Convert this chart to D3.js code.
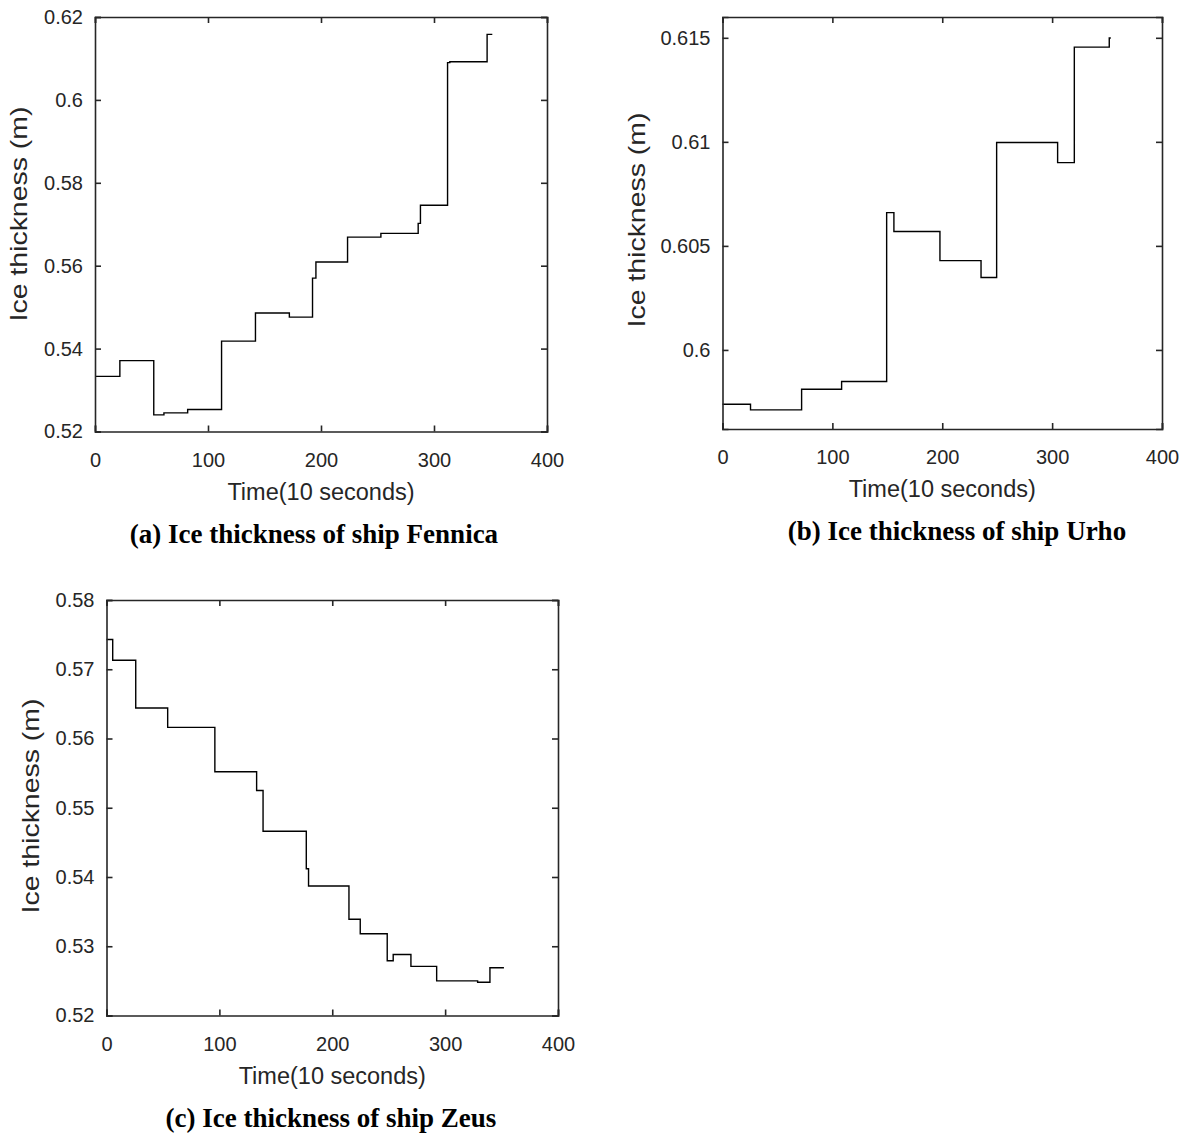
<!DOCTYPE html>
<html>
<head>
<meta charset="utf-8">
<script src="https://cdn.jsdelivr.net/npm/d3@7"></script>
<style>
  body { margin: 0; background: #fff; }
  svg { display: block; }
</style>
</head>
<body>
<div id="chart"></div>
<script>
// step data: time (x10 s) where each level starts, and ice thickness (m)
const fennicaTime = [0, 22, 52, 61, 82, 112, 142, 172, 192.5, 195.5, 223.5, 253, 286, 288, 312, 314, 347, 351.6];
const fennicaIce  = [0.5333, 0.5371, 0.5240, 0.5245, 0.5253, 0.5418, 0.5486, 0.5476, 0.5570, 0.5609, 0.5669, 0.5678, 0.5702, 0.5746, 0.6090, 0.6092, 0.6158, 0.6158];

const urhoTime = [0, 25.5, 72, 108.4, 149.4, 156, 197.9, 235.3, 249.5, 305, 320.2, 352, 353.4];
const urhoIce  = [0.59739, 0.59712, 0.59811, 0.59848, 0.6066, 0.60569, 0.60429, 0.60348, 0.60997, 0.6090, 0.61455, 0.61499, 0.61499];

const zeusTime = [0, 5.5, 25.9, 54.2, 96, 133, 138.7, 177, 179, 214.8, 224.8, 248.7, 254, 269.7, 292.5, 328.8, 339.7, 352.1];
const zeusIce  = [0.5743, 0.5713, 0.5644, 0.5616, 0.5552, 0.5525, 0.5466, 0.5412, 0.5387, 0.5339, 0.5318, 0.5279, 0.5288, 0.5271, 0.5250, 0.5248, 0.5269, 0.5269];

const timeTicks = [0, 100, 200, 300, 400];
const fennicaTicks = [0.52, 0.54, 0.56, 0.58, 0.6, 0.62];
const urhoTicks = [0.6, 0.605, 0.61, 0.615];
const zeusTicks = [0.52, 0.53, 0.54, 0.55, 0.56, 0.57, 0.58];

const titles = ["(a) Ice thickness of ship Fennica", "(b) Ice thickness of ship Urho", "(c) Ice thickness of ship Zeus"];
const xLabel = "Time(10 seconds)";
const yLabel = "Ice thickness (m)";

const svg = d3.select("#chart")
  .append("svg")
  .attr("width", 1185)
  .attr("height", 1133);

const axisColor = "#262626";
const sans = "'Liberation Sans', Arial, sans-serif";
const fmt = d3.format("~g");

function panel(cfg) {
  const x = d3.scaleLinear().domain([0, 400]).range([cfg.left, cfg.right]);
  const y = d3.scaleLinear().domain(cfg.yDomain).range([cfg.bottom, cfg.top]);
  const g = svg.append("g");

  // data line (step after)
  const pts = cfg.time.map((t, i) => [t, cfg.ice[i]]);
  const line = d3.line()
    .x(d => x(d[0]))
    .y(d => y(d[1]))
    .curve(d3.curveStepAfter);
  g.append("path")
    .attr("d", line(pts))
    .attr("fill", "none")
    .attr("stroke", "#000")
    .attr("stroke-width", 1.4);

  // box with inward ticks on all sides
  const tl = 6;
  g.append("g").attr("transform", `translate(0,${cfg.bottom})`)
    .call(d3.axisBottom(x).tickValues(timeTicks).tickSize(-tl).tickFormat(fmt).tickPadding(21));
  g.append("g").attr("transform", `translate(0,${cfg.top})`)
    .call(d3.axisTop(x).tickValues(timeTicks).tickSize(-tl).tickFormat(""));
  g.append("g").attr("transform", `translate(${cfg.left},0)`)
    .call(d3.axisLeft(y).tickValues(cfg.ticks).tickSize(-tl).tickFormat(fmt).tickPadding(12));
  g.append("g").attr("transform", `translate(${cfg.right},0)`)
    .call(d3.axisRight(y).tickValues(cfg.ticks).tickSize(-tl).tickFormat(""));

  g.selectAll(".domain").attr("stroke", axisColor).attr("stroke-width", 1.6);
  g.selectAll(".tick line").attr("stroke", axisColor).attr("stroke-width", 1.6);
  g.selectAll(".tick text")
    .attr("fill", axisColor)
    .style("font-family", sans)
    .style("font-size", "20px");

  g.append("text")
    .attr("x", (cfg.left + cfg.right) / 2)
    .attr("y", cfg.bottom + 68)
    .attr("text-anchor", "middle")
    .attr("fill", axisColor)
    .style("font-family", sans)
    .style("font-size", "23.5px")
    .text(xLabel);

  g.append("text")
    .attr("transform", `translate(${cfg.yLabelX},${cfg.yLabelY}) rotate(-90)`)
    .attr("text-anchor", "middle")
    .attr("fill", axisColor)
    .attr("textLength", 215)
    .attr("lengthAdjust", "spacingAndGlyphs")
    .style("font-family", sans)
    .style("font-size", "24px")
    .text(yLabel);

  g.append("text")
    .attr("x", cfg.titleX)
    .attr("y", cfg.bottom + 111)
    .attr("text-anchor", "middle")
    .attr("fill", "#000")
    .style("font-family", "'Liberation Serif', 'Times New Roman', serif")
    .style("font-weight", "bold")
    .style("font-size", "27px")
    .text(cfg.title);
}

panel({ left: 95, right: 547, top: 17, bottom: 431.5, yDomain: [0.52, 0.62],
  ticks: fennicaTicks, time: fennicaTime, ice: fennicaIce,
  yLabelX: 27, yLabelY: 214, titleX: 314, title: titles[0] });
panel({ left: 722.5, right: 1162, top: 17, bottom: 429, yDomain: [0.5962, 0.6160],
  ticks: urhoTicks, time: urhoTime, ice: urhoIce,
  yLabelX: 645, yLabelY: 220, titleX: 957, title: titles[1] });
panel({ left: 106.5, right: 558, top: 600, bottom: 1015.5, yDomain: [0.52, 0.58],
  ticks: zeusTicks, time: zeusTime, ice: zeusIce,
  yLabelX: 39, yLabelY: 806, titleX: 331, title: titles[2] });
</script>
</body>
</html>
